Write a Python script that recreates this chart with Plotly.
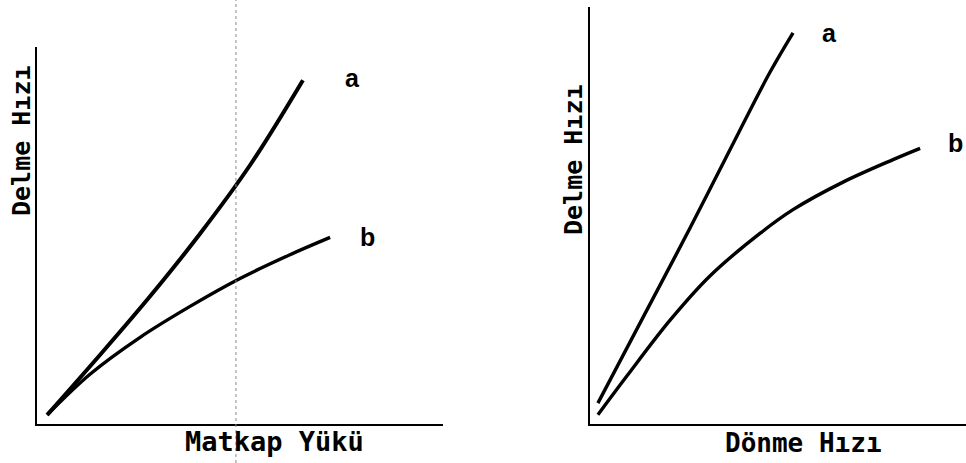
import plotly.graph_objects as go

# Left panel: drilling rate vs. bit load (arbitrary units 0-100)
load_a = [2.5, 15.5, 27.8, 40.1, 52.5, 65.5]
rate_load_a = [2.4, 18.3, 33.8, 50.4, 68.7, 91.2]
load_b = [2.5, 13.05, 25.4, 37.7, 50.0, 62.3, 72.2]
rate_load_b = [2.4, 13.2, 23.0, 31.2, 38.6, 44.9, 49.5]
load_marker = 49.0

# Right panel: drilling rate vs. rotation speed (arbitrary units 0-100)
rpm_a = [2.1, 13.3, 26.6, 39.9, 47.9, 54.0]
rate_rpm_a = [5.0, 24.2, 47.0, 70.5, 84.4, 93.8]
rpm_b = [2.1, 9.8, 21.3, 31.9, 45.2, 54.0, 67.3, 80.6, 87.8]
rate_rpm_b = [2.2, 11.5, 24.9, 35.5, 45.7, 51.4, 58.0, 63.4, 66.1]

curve_labels = ["a", "b"]
x_titles = ["Matkap Yükü", "Dönme Hızı"]
y_title = "Delme Hızı"

fig = go.Figure()
ink = "#000000"

fig.add_trace(go.Scatter(x=load_a, y=rate_load_a, mode="lines", line=dict(color=ink, width=4, shape="spline"),
                         xaxis="x", yaxis="y", showlegend=False))
fig.add_trace(go.Scatter(x=load_b, y=rate_load_b, mode="lines", line=dict(color=ink, width=3.4, shape="spline"),
                         xaxis="x", yaxis="y", showlegend=False))
fig.add_trace(go.Scatter(x=rpm_a, y=rate_rpm_a, mode="lines", line=dict(color=ink, width=3.4, shape="spline"),
                         xaxis="x2", yaxis="y2", showlegend=False))
fig.add_trace(go.Scatter(x=rpm_b, y=rate_rpm_b, mode="lines", line=dict(color=ink, width=3.4, shape="spline"),
                         xaxis="x2", yaxis="y2", showlegend=False))

axis_common = dict(range=[0, 100], showgrid=False, zeroline=False, showticklabels=False,
                   ticks="", showline=True, linecolor=ink, linewidth=2, fixedrange=True)

fig.update_layout(
    width=966, height=463,
    margin=dict(l=0, r=0, t=0, b=0),
    paper_bgcolor="white", plot_bgcolor="white",
    xaxis=dict(domain=[37/966, 443/966], anchor="y", **axis_common),
    yaxis=dict(domain=[39/463, 416/463], anchor="x", **axis_common),
    xaxis2=dict(domain=[590/966, 1.0], anchor="y2", **axis_common),
    yaxis2=dict(domain=[39/463, 456/463], anchor="x2", **axis_common),
)

# faint dotted reference line through the left panel
fig.add_shape(type="line", xref="x", yref="paper", x0=load_marker, x1=load_marker, y0=0, y1=1,
              line=dict(color="#8c8c8c", width=1, dash="dot"))

label_font = dict(family="Liberation Sans, Arial, sans-serif", size=25, color=ink)
fig.add_annotation(x=77.6, y=91.8, xref="x", yref="y", text="<b>" + curve_labels[0] + "</b>",
                   showarrow=False, font=label_font)
fig.add_annotation(x=81.3, y=49.6, xref="x", yref="y", text="<b>" + curve_labels[1] + "</b>",
                   showarrow=False, font=label_font)
fig.add_annotation(x=63.6, y=93.8, xref="x2", yref="y2", text="<b>" + curve_labels[0] + "</b>",
                   showarrow=False, font=label_font)
fig.add_annotation(x=97.1, y=67.4, xref="x2", yref="y2", text="<b>" + curve_labels[1] + "</b>",
                   showarrow=False, font=label_font)

title_font = dict(family="DejaVu Sans Mono, monospace", size=26, color=ink)
fig.add_annotation(x=274/966, y=22/463, xref="paper", yref="paper", text="<b>" + x_titles[0] + "</b>",
                   showarrow=False, font=dict(title_font, size=27), xanchor="center", yanchor="middle")
fig.add_annotation(x=803/966, y=20/463, xref="paper", yref="paper", text="<b>" + x_titles[1] + "</b>",
                   showarrow=False, font=title_font, xanchor="center", yanchor="middle")
fig.add_annotation(x=21/966, y=322/463, xref="paper", yref="paper", text="<b>" + y_title + "</b>",
                   showarrow=False, font=dict(title_font, size=25), textangle=-90, xanchor="center", yanchor="middle")
fig.add_annotation(x=573/966, y=303/463, xref="paper", yref="paper", text="<b>" + y_title + "</b>",
                   showarrow=False, font=dict(title_font, size=25), textangle=-90, xanchor="center", yanchor="middle")

fig.write_html("out.html")
